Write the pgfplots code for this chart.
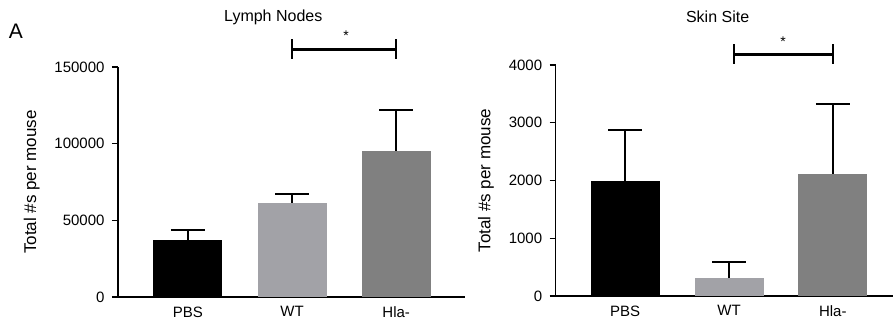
\documentclass[border=0pt]{standalone}
\usepackage{fontspec}
\setmainfont{Liberation Sans}
\usepackage{pgfplots}
\pgfplotsset{compat=1.18}

\definecolor{wtgray}{RGB}{162,162,167}
\definecolor{hlagray}{RGB}{128,128,128}

\newcommand{\ticksize}{\fontsize{15}{18}\selectfont}
\newcommand{\labsize}{\fontsize{17}{20}\selectfont}
\newcommand{\titsize}{\fontsize{16}{19}\selectfont}

\pgfplotsset{
  panel/.style={
    scale only axis, anchor=south west,
    axis lines=left, axis line style={-, line width=1.3pt},
    ymin=0, xmin=-0.67,
    xtick={0,1,2}, xticklabels={PBS,WT,Hla-},
    x tick style={draw=none},
    y tick style={line width=1.3pt, black},
    major tick length=6pt, tick align=outside,
    ybar, bar width=69pt,
    clip=false,
    tick label style={font=\ticksize},
    yticklabel style={xshift=-4pt},
    label style={font=\labsize},
    ylabel shift=8pt,
    /pgf/number format/assume math mode=true,
    /pgf/number format/fixed,
    /pgf/number format/1000 sep={},
    scaled y ticks=false,
    ylabel={Total \#s per mouse},
    error bars/y dir=plus, error bars/y explicit,
    error bars/error bar style={black, line width=2.5pt},
    error bars/error mark options={black, line width=2.2pt, mark size=17pt, rotate=90},
  },
  bar/.style={fill=#1, draw=none, bar shift=0pt},
}

\begin{document}
\begin{tikzpicture}
\useasboundingbox (0,0) rectangle (893pt,325pt);

\node[font=\fontsize{21}{24}\selectfont] at (16pt,294pt) {A};

% Lymph nodes
\begin{axis}[panel, at={(118pt,28pt)}, width=347pt, height=230pt,
  xmax=2.66, ymax=150000, ytick={0,50000,100000,150000}]
  \addplot[bar=black]   coordinates {(0,37000) +- (0,6700)};
  \addplot[bar=wtgray]  coordinates {(1,61500) +- (0,5500)};
  \addplot[bar=hlagray] coordinates {(2,95400) +- (0,26500)};
  \draw[line width=2.5pt] (axis cs:1,161500) -- (axis cs:2,161500);
  \draw[line width=2.5pt] ([yshift=10pt]axis cs:1,161500) -- ([yshift=-10pt]axis cs:1,161500);
  \draw[line width=2.5pt] ([yshift=10pt]axis cs:2,161500) -- ([yshift=-10pt]axis cs:2,161500);
  \node[font=\fontsize{14}{16}\selectfont] at (axis cs:1.52,170500) {*};
  \node[font=\titsize] at (axis cs:0.82,182600) {Lymph Nodes};
\end{axis}

% Skin site
\begin{axis}[panel, at={(555.7pt,29pt)}, width=337.3pt, height=231pt,
  xmax=2.58, ymax=4000, ytick={0,1000,2000,3000,4000}]
  \addplot[bar=black]   coordinates {(0,2000) +- (0,880)};
  \addplot[bar=wtgray]  coordinates {(1,320) +- (0,275)};
  \addplot[bar=hlagray] coordinates {(2,2120) +- (0,1210)};
  \draw[line width=2.5pt] (axis cs:1.05,4185) -- (axis cs:2,4185);
  \draw[line width=2.5pt] ([yshift=10pt]axis cs:1.05,4185) -- ([yshift=-10pt]axis cs:1.05,4185);
  \draw[line width=2.5pt] ([yshift=10pt]axis cs:2,4185) -- ([yshift=-10pt]axis cs:2,4185);
  \node[font=\fontsize{14}{16}\selectfont] at (axis cs:1.52,4400) {*};
  \node[font=\titsize] at (axis cs:0.89,4831) {Skin Site};
\end{axis}
\end{tikzpicture}
\end{document}
